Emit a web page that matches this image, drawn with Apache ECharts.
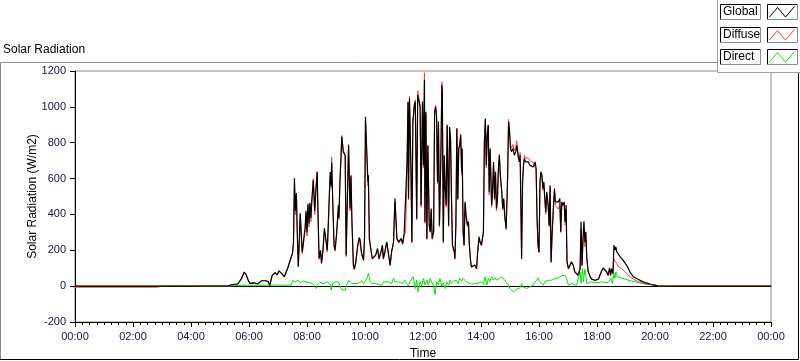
<!DOCTYPE html>
<html>
<head>
<meta charset="utf-8">
<script src="https://cdn.jsdelivr.net/npm/echarts@6/dist/echarts.min.js"></script>
<style>html,body{margin:0;padding:0;background:#fff;overflow:hidden;}#c{width:800px;height:361px;}</style>
</head>
<body>
<div id="c"></div>
<script>
// Time axis (minutes since midnight) and tick settings
const xTickMinutes = 120;           // major tick every 2 hours
const yTicks = [-200, 0, 200, 400, 600, 800, 1000, 1200];
const seriesNames = ['Global', 'Diffuse', 'Direct'];

// Global / Diffuse sample times (minutes)
const gTimes = [
  0, 170, 172, 181, 182, 184, 185, 212, 213, 216,
  217, 316, 325, 337, 345, 350, 354, 358,
  362, 370, 378, 386, 395, 400, 403, 408, 414, 418,
  422, 428, 433, 440, 446, 450, 452, 454, 456, 458,
  460, 462, 464, 466, 468, 470, 472, 474, 476, 478,
  480, 482, 484, 486, 488, 490, 493, 496, 498, 501,
  503, 505, 508, 510, 513, 516, 519, 522, 525, 528,
  530, 531, 533, 536, 538, 541, 545, 546, 548, 552,
  555, 559, 561, 564, 566, 567, 569, 571, 573, 576,
  578, 581, 585, 588, 590, 593, 597, 599, 601, 604,
  606, 607, 609, 612, 615, 619, 622, 626, 629, 633,
  636, 638, 641, 645, 648, 652, 655, 659, 662, 664,
  666, 670, 675, 678, 681, 684, 687, 689, 690, 692,
  695, 697, 699, 702, 704, 707, 709, 712, 714, 716,
  719, 721, 723, 724, 726, 728, 730, 733, 735, 737,
  739, 742, 744, 746, 748, 750, 752, 754, 757, 759,
  760, 762, 764, 766, 768, 770, 773, 775, 777, 779,
  781, 783, 785, 786, 788, 790, 792, 794, 796, 798,
  800, 801, 803, 805, 807, 809, 812, 814, 816, 818,
  820, 824, 827, 831, 833, 836, 838, 841, 845, 847,
  849, 851, 853, 855, 857, 859, 862, 864, 866, 868,
  870, 872, 874, 876, 878, 880, 883, 885, 887, 889,
  892, 895, 897, 899, 901, 903, 906, 909, 912, 914,
  917, 919, 921, 924, 926, 928, 930, 932, 935, 938,
  941, 945, 948, 952, 954, 956, 958, 960, 962, 964,
  966, 968, 970, 972, 974, 976, 979, 981, 983, 985,
  987, 990, 992, 994, 996, 1000, 1003, 1005, 1007, 1009,
  1012, 1014, 1016, 1018, 1021, 1024, 1027, 1031, 1034, 1038,
  1041, 1045, 1047, 1049, 1051, 1053, 1055, 1057, 1059, 1062,
  1066, 1069, 1072, 1076, 1079, 1083, 1086, 1090, 1093, 1097,
  1100, 1103, 1106, 1108, 1110, 1113, 1115, 1117, 1119, 1121,
  1124, 1128, 1131, 1134, 1138, 1141, 1145, 1148, 1152, 1155,
  1159, 1166, 1172, 1179, 1186, 1193, 1200, 1207, 1440
];

// Global radiation (W/m2)
const globalVals = [
  0, 0, 0, 0, 0, 0, 0, 0, 0, 0,
  0, 2, 8, 12, 45, 78, 65, 35,
  15, 18, 12, 30, 30, 25, 5, 60, 75, 62,
  85, 70, 52, 100, 150, 184, 240, 602, 420, 520,
  280, 108, 250, 407, 300, 190, 230, 280, 323, 420,
  300, 460, 350, 465, 380, 480, 591, 420, 520, 637,
  380, 156, 200, 130, 200, 323, 260, 200, 190, 637,
  560, 690, 500, 229, 201, 284, 451, 380, 572, 833,
  749, 730, 173, 164, 786, 675, 433, 619, 359, 117,
  95, 136, 229, 271, 257, 182, 145, 266, 944, 935,
  582, 619, 266, 210, 154, 145, 173, 210, 154, 191,
  229, 154, 191, 247, 257, 117, 191, 247, 489, 377,
  266, 247, 266, 238, 294, 303, 693, 1028, 489, 1047,
  675, 247, 916, 1009, 1028, 377, 1065, 1074, 1000, 452,
  1028, 675, 1150, 359, 972, 266, 786, 340, 303, 433,
  266, 303, 972, 1000, 954, 582, 916, 340, 730, 1121,
  1084, 247, 730, 545, 452, 898, 340, 888, 824, 489,
  229, 219, 191, 154, 340, 879, 489, 768, 786, 842,
  638, 768, 303, 229, 470, 396, 340, 359, 229, 154,
  108, 98, 117, 98, 191, 275, 247, 229, 303, 805,
  935, 675, 842, 898, 526, 768, 452, 545, 693, 489,
  638, 433, 489, 656, 730, 619, 526, 433, 489, 396,
  322, 600, 916, 861, 768, 749, 768, 730, 749, 786,
  721, 693, 730, 154, 582, 675, 712, 693, 703, 693,
  675, 675, 665, 693, 656, 377, 229, 191, 582, 638,
  619, 545, 582, 489, 414, 526, 452, 340, 563, 136,
  284, 452, 545, 470, 480, 470, 489, 303, 470, 452,
  470, 359, 452, 136, 98, 117, 136, 117, 80, 71,
  61, 98, 359, 117, 266, 362, 247, 303, 154, 80,
  52, 39, 33, 33, 37, 39, 61, 89, 102, 98,
  80, 61, 102, 61, 98, 71, 229, 201, 219, 191,
  182, 163, 154, 145, 136, 117, 98, 80, 65, 52,
  46, 37, 28, 20, 15, 9, 6, 0, 0
];

// Diffuse radiation (W/m2), same sample times as Global
const diffuseVals = [
  -6, -6, 0, 0, -6, -6, 0, 0, -6, -6,
  0, 2, 8, 12, 45, 80, 65, 35,
  15, 18, 12, 30, 30, 25, 5, 60, 78, 62,
  85, 70, 52, 100, 150, 184, 240, 560, 400, 500,
  290, 115, 240, 400, 300, 180, 220, 270, 310, 410,
  280, 450, 330, 455, 360, 470, 600, 400, 510, 640,
  370, 150, 190, 126, 195, 310, 250, 190, 180, 620,
  550, 721, 490, 220, 195, 280, 440, 370, 560, 840,
  760, 720, 165, 160, 790, 660, 420, 610, 350, 112,
  92, 130, 225, 265, 255, 178, 140, 260, 930, 920,
  560, 600, 260, 205, 150, 140, 170, 205, 150, 188,
  225, 150, 188, 240, 250, 115, 188, 240, 470, 370,
  260, 240, 260, 232, 285, 300, 650, 1020, 480, 1060,
  660, 240, 900, 1010, 1040, 370, 1090, 1080, 1010, 440,
  1030, 660, 1190, 350, 960, 260, 780, 330, 300, 420,
  260, 300, 960, 1010, 950, 570, 920, 330, 720, 1140,
  1090, 240, 720, 540, 440, 900, 330, 880, 830, 480,
  220, 210, 185, 150, 330, 880, 480, 770, 790, 850,
  620, 760, 300, 225, 460, 390, 330, 350, 225, 150,
  105, 95, 115, 95, 185, 270, 245, 225, 300, 800,
  930, 660, 850, 900, 510, 760, 440, 530, 680, 480,
  630, 420, 480, 650, 735, 610, 520, 425, 480, 390,
  315, 590, 930, 875, 790, 770, 790, 755, 775, 810,
  740, 710, 745, 150, 575, 690, 730, 715, 725, 715,
  700, 695, 690, 700, 650, 370, 220, 185, 570, 630,
  610, 535, 570, 480, 400, 510, 440, 330, 550, 130,
  280, 440, 530, 450, 440, 430, 450, 300, 440, 430,
  460, 340, 430, 130, 95, 112, 130, 112, 78, 68,
  60, 95, 320, 112, 250, 300, 220, 260, 140, 78,
  50, 38, 32, 32, 36, 38, 58, 85, 98, 92,
  76, 58, 95, 58, 90, 68, 154, 140, 130, 126,
  108, 104, 98, 92, 80, 72, 61, 52, 46, 38,
  33, 25, 20, 14, 11, 8, 6, 0, 0
];

// Direct radiation sample times (minutes) and values (W/m2)
const dTimes = [
  0, 316, 330, 350, 380, 410, 430, 448, 450, 455,
  459, 462, 466, 469, 473, 476, 479, 483, 486, 490,
  493, 495, 499, 501, 504, 507, 510, 514, 517, 521,
  524, 528, 530, 533, 535, 538, 541, 545, 548, 552,
  555, 559, 562, 566, 569, 573, 576, 579, 583, 586,
  590, 593, 597, 600, 604, 607, 610, 614, 617, 621,
  628, 635, 638, 641, 648, 655, 659, 662, 666, 669,
  676, 683, 686, 690, 693, 697, 700, 704, 707, 710,
  714, 717, 721, 724, 728, 731, 735, 738, 742, 745,
  748, 752, 755, 759, 762, 766, 769, 773, 776, 779,
  783, 786, 789, 793, 796, 800, 803, 807, 810, 814,
  820, 827, 834, 841, 845, 848, 852, 855, 858, 862,
  865, 869, 872, 876, 883, 886, 889, 893, 896, 900,
  903, 907, 910, 914, 917, 921, 924, 927, 931, 934,
  938, 941, 945, 948, 952, 955, 958, 962, 965, 969,
  972, 976, 979, 986, 993, 996, 1000, 1007, 1010, 1014,
  1017, 1021, 1028, 1033, 1034, 1038, 1041, 1045, 1047, 1050,
  1052, 1055, 1057, 1059, 1062, 1069, 1076, 1083, 1090, 1093,
  1097, 1103, 1107, 1109, 1112, 1115, 1117, 1119, 1122, 1124,
  1131, 1138, 1145, 1152, 1159, 1172, 1186, 1200, 1207, 1440
];
const directVals = [
  0, 0, 3, 5, 4, 6, 5, 6, 33, 24,
  30, 33, 20, 20, 28, 33, 22, 15, 20, 24,
  12, 6, -13, 5, 15, 22, 24, 12, 15, 25,
  20, 10, -22, 15, 24, 24, 33, 24, 6, -22,
  -28, -22, 6, 33, 43, 15, 6, 15, 24, 15,
  20, 28, 15, 24, 43, 71, 33, 15, 24, 15,
  9, 6, 24, 15, 24, 15, 43, 24, 33, 24,
  15, 33, 15, 0, 24, 15, 52, -13, 33, -32,
  24, 0, 43, 6, 33, 6, 43, 24, 0, -47,
  24, 6, 43, 0, 15, -13, 24, 6, 33, 15,
  28, 24, 33, 15, 43, 28, 43, 33, 24, 15,
  11, 15, 15, 24, 9, 52, 6, 43, 24, 52,
  33, 46, 33, 43, 52, 43, 33, 24, 6, -13,
  -22, -32, -22, -17, -13, -9, 15, -4, -9, -13,
  -9, -4, 6, 6, 15, 33, 46, 24, 15, 6,
  24, 20, 33, 33, 43, 52, 46, 58, 65, 61,
  43, 6, 15, 6, 15, 6, 15, 80, 15, 98,
  24, 95, 61, 15, 24, 24, 20, 20, 24, 15,
  20, 20, 28, 43, 15, 71, 43, 80, 52, 52,
  46, 39, 33, 28, 24, 15, 9, 6, 0, 0
];

function pad(n) { return (n < 10 ? '0' : '') + n; }
function fmtTime(v) { const m = Math.round(v); return pad(Math.floor(m / 60) % 24) + ':' + pad(m % 60); }
function pairs(ts, vs) { return ts.map((t, i) => [t, vs[i]]); }

const colors = { Global: '#000000', Diffuse: '#ff3c3c', Direct: '#00e600' };
const font = 'Liberation Sans, Arial, sans-serif';
const tickColor = '#14143a';

const chart = echarts.init(document.getElementById('c'), null, { renderer: 'canvas' });

// legend drawing (LabVIEW style plot legend)
const legendGraphics = [
  { type: 'rect', z: 100, shape: { x: 717, y: 0, width: 83, height: 72 }, style: { fill: '#ffffff' } },
  { type: 'polyline', z: 101, shape: { points: [[717.5, 0], [717.5, 72.5], [800, 72.5]] }, style: { stroke: '#a0a0a0', fill: null, lineWidth: 1 } }
];
seriesNames.forEach((name, i) => {
  const y0 = 4 + i * 22.7;
  const yT = Math.round(y0) + 0.5;
  const yB = yT + 15;
  [[720.5, 760.5], [767.5, 797.5]].forEach(([x1, x2]) => {
    legendGraphics.push({ type: 'rect', z: 101, shape: { x: x1, y: yT, width: x2 - x1, height: 15 }, style: { fill: '#fff', stroke: null } });
    legendGraphics.push({ type: 'polyline', z: 102, shape: { points: [[x1, yB], [x1, yT], [x2, yT]] }, style: { stroke: '#000', fill: null, lineWidth: 1 } });
    legendGraphics.push({ type: 'polyline', z: 102, shape: { points: [[x2, yT], [x2, yB], [x1, yB]] }, style: { stroke: '#8a8a8a', fill: null, lineWidth: 1 } });
  });
  legendGraphics.push({ type: 'text', z: 103, x: 723, y: yT + 7.5, style: { text: name, font: '12px ' + font, fill: '#000', verticalAlign: 'middle', align: 'left' } });
  legendGraphics.push({ type: 'polyline', z: 103, shape: { points: [[769.5, yT + 12.5], [777.5, yT + 3], [785.5, yT + 12.5], [794.5, yT + 2]] }, style: { stroke: colors[name], fill: null, lineWidth: 1 } });
});

const frameGraphics = [
  { type: 'polyline', z: 50, shape: { points: [[0.5, 360], [0.5, 62.5], [717, 62.5]] }, style: { stroke: '#8a8a8a', fill: null, lineWidth: 1 } },
  { type: 'polyline', z: 50, shape: { points: [[0, 359.5], [798.5, 359.5], [798.5, 72]] }, style: { stroke: '#000', fill: null, lineWidth: 1 } }
];

chart.setOption({
  animation: false,
  backgroundColor: '#ffffff',
  title: { text: 'Solar Radiation', left: 3, top: 44, padding: 0, textStyle: { fontFamily: font, fontSize: 12, fontWeight: 'normal', color: '#000' } },
  grid: { left: 75, right: 29, top: 71, bottom: 39, show: true, borderColor: '#8a8a8a', borderWidth: 1, backgroundColor: '#fff', outerBoundsMode: 'none', containLabel: false },
  xAxis: [{
    type: 'value', min: 0, max: 1440, interval: xTickMinutes,
    name: 'Time', nameLocation: 'middle', nameGap: 26, nameMoveOverlap: false,
    nameTextStyle: { fontFamily: font, fontSize: 12, color: '#000' },
    axisLine: { show: true, onZero: false, lineStyle: { color: '#000', width: 1 } },
    axisTick: { show: true, length: 5, lineStyle: { color: '#000' } },
    minorTick: { show: true, splitNumber: 8, length: 3, lineStyle: { color: '#000' } },
    splitLine: { show: false },
    axisLabel: { formatter: fmtTime, fontFamily: font, fontSize: 11, color: tickColor, margin: 9 }
  }, {
    type: 'value', position: 'top', min: 0, max: 1440,
    axisLine: { show: true, lineStyle: { color: '#000', width: 1 } },
    axisTick: { show: false }, axisLabel: { show: false }, splitLine: { show: false }
  }],
  yAxis: {
    type: 'value', min: yTicks[0], max: yTicks[yTicks.length - 1], interval: 200,
    name: 'Solar Radiation (W/m2)', nameLocation: 'middle', nameGap: 36, nameMoveOverlap: false,
    nameTextStyle: { fontFamily: font, fontSize: 12, color: '#000' },
    axisLine: { show: true, lineStyle: { color: '#000', width: 1 } },
    axisTick: { show: true, length: 5, lineStyle: { color: '#000' } },
    splitLine: { show: false },
    axisLabel: { formatter: (v) => String(v), fontFamily: font, fontSize: 11, color: tickColor, margin: 9 }
  },
  series: [
    { name: 'Direct', type: 'line', data: pairs(dTimes, directVals), showSymbol: false, symbol: 'none', lineStyle: { color: colors.Direct, width: 1 }, z: 2 },
    { name: 'Diffuse', type: 'line', data: pairs(gTimes, diffuseVals), showSymbol: false, symbol: 'none', lineStyle: { color: colors.Diffuse, width: 1 }, z: 3 },
    { name: 'Global', type: 'line', data: pairs(gTimes, globalVals), showSymbol: false, symbol: 'none', lineStyle: { color: colors.Global, width: 1.2 }, z: 4 }
  ],
  graphic: frameGraphics.concat(legendGraphics)
});
</script>
</body>
</html>
